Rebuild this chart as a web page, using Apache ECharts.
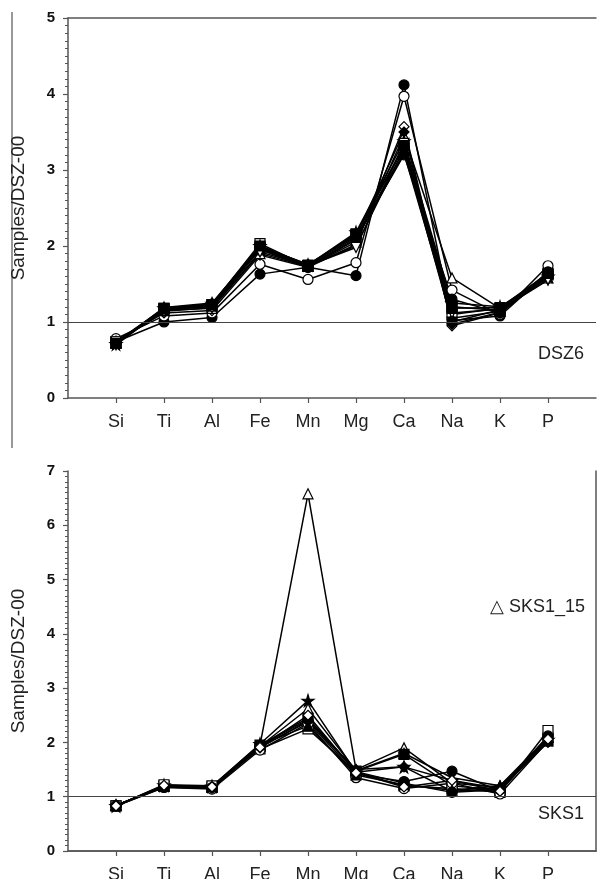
<!DOCTYPE html>
<html>
<head>
<meta charset="utf-8">
<script src="https://cdn.jsdelivr.net/npm/echarts@6/dist/echarts.min.js"></script>
<style>
  html, body { margin: 0; padding: 0; background: #fff; }
  #chart { width: 597px; height: 879px; }
</style>
</head>
<body>
<div id="chart"></div>
<script>
// element order on the x axis
var elements = ["Si", "Ti", "Al", "Fe", "Mn", "Mg", "Ca", "Na", "K", "P"];

// DSZ6 samples normalised to DSZ-00
var dsz6_a = [0.74, 1.00, 1.06, 1.63, 1.72, 1.61, 4.12, 1.02, 1.08, 1.65];
var dsz6_b = [0.78, 1.08, 1.12, 1.76, 1.56, 1.78, 3.97, 1.42, 1.10, 1.74];
var dsz6_c = [0.75, 1.12, 1.15, 1.88, 1.72, 2.02, 3.57, 0.95, 1.12, 1.60];
var dsz6_d = [0.72, 1.15, 1.18, 1.90, 1.73, 2.05, 3.45, 1.58, 1.18, 1.58];
var dsz6_e = [0.73, 1.17, 1.22, 1.98, 1.74, 2.15, 3.30, 1.20, 1.15, 1.62];
var dsz6_f = [0.74, 1.18, 1.23, 2.03, 1.73, 2.12, 3.25, 1.10, 1.18, 1.63];
var dsz6_g = [0.71, 1.18, 1.24, 2.00, 1.75, 2.18, 3.38, 1.25, 1.20, 1.60];
var dsz6_h = [0.73, 1.16, 1.21, 1.95, 1.73, 2.08, 3.22, 1.05, 1.14, 1.64];
var dsz6_i = [0.70, 1.17, 1.20, 1.97, 1.74, 2.00, 3.28, 1.00, 1.16, 1.55];
var dsz6_j = [0.72, 1.19, 1.25, 1.99, 1.76, 2.13, 3.50, 0.97, 1.13, 1.62];
var dsz6_k = [0.73, 1.15, 1.22, 1.96, 1.72, 2.10, 3.20, 1.30, 1.12, 1.66];
var dsz6_l = [0.74, 1.14, 1.19, 1.92, 1.74, 1.98, 3.35, 1.12, 1.17, 1.56];
var dsz6_m = [0.72, 1.18, 1.23, 2.00, 1.75, 2.16, 3.32, 1.18, 1.19, 1.64];

// SKS1 samples normalised to DSZ-00
var sks1_15 = [0.84, 1.20, 1.18, 1.95, 6.58, 1.50, 1.90, 1.25, 1.18, 2.05];
var sks1_a = [0.83, 1.21, 1.19, 1.97, 2.77, 1.45, 1.55, 1.30, 1.15, 2.05];
var sks1_b = [0.84, 1.19, 1.17, 1.93, 2.62, 1.48, 1.80, 1.35, 1.20, 2.10];
var sks1_c = [0.83, 1.20, 1.18, 1.95, 2.45, 1.47, 1.78, 1.20, 1.12, 2.08];
var sks1_d = [0.84, 1.18, 1.15, 1.92, 2.38, 1.42, 1.28, 1.47, 1.10, 2.10];
var sks1_e = [0.83, 1.22, 1.20, 1.88, 2.25, 1.45, 1.20, 1.15, 1.08, 2.22];
var sks1_f = [0.83, 1.17, 1.14, 1.86, 2.35, 1.35, 1.15, 1.25, 1.05, 2.02];
var sks1_g = [0.84, 1.19, 1.16, 1.90, 2.40, 1.50, 1.55, 1.10, 1.15, 2.00];
var sks1_h = [0.83, 1.18, 1.17, 1.94, 2.42, 1.46, 1.25, 1.08, 1.13, 2.12];
var sks1_i = [0.84, 1.20, 1.19, 1.96, 2.30, 1.40, 1.22, 1.12, 1.20, 2.03];
var sks1_j = [0.83, 1.21, 1.18, 1.91, 2.50, 1.44, 1.18, 1.30, 1.10, 2.06];

var star = "path://M50,0 L61,35 L98,35 L68,57 L79,91 L50,70 L21,91 L32,57 L2,35 L39,35 Z";
var font = "Liberation Sans, Arial, Helvetica, sans-serif";

// pad an empty slot at both ends of the x axis
var cats = [""].concat(elements, [""]);
function pad(arr) { return [null].concat(arr, [null]); }

function mk(name, arr, idx, symbol, filled, rotate) {
  return {
    name: name,
    type: "line",
    xAxisIndex: idx,
    yAxisIndex: idx,
    data: pad(arr),
    symbol: symbol,
    symbolSize: symbol === star ? 12 : 10,
    symbolRotate: rotate || 0,
    showAllSymbol: true,
    connectNulls: false,
    lineStyle: { color: "#000", width: 1.5 },
    itemStyle: { color: filled ? "#000" : "#fff", borderColor: "#000", borderWidth: 1.2 },
    emphasis: { disabled: true },
    animation: false
  };
}

var one = {
  silent: true,
  symbol: "none",
  label: { show: false },
  lineStyle: { color: "#444", width: 1, type: "solid" },
  data: [{ yAxis: 1 }]
};

var series = [
  mk("DSZ6-a", dsz6_a, 0, "circle", true),
  mk("DSZ6-b", dsz6_b, 0, "circle", false),
  mk("DSZ6-c", dsz6_c, 0, "diamond", false),
  mk("DSZ6-d", dsz6_d, 0, "triangle", false),
  mk("DSZ6-e", dsz6_e, 0, "rect", true),
  mk("DSZ6-f", dsz6_f, 0, "rect", false),
  mk("DSZ6-g", dsz6_g, 0, star, true),
  mk("DSZ6-h", dsz6_h, 0, "triangle", true),
  mk("DSZ6-i", dsz6_i, 0, "triangle", true, 180),
  mk("DSZ6-j", dsz6_j, 0, "diamond", true),
  mk("DSZ6-k", dsz6_k, 0, "circle", true),
  mk("DSZ6-l", dsz6_l, 0, "triangle", false, 180),
  mk("DSZ6-m", dsz6_m, 0, "rect", true),
  mk("SKS1_15", sks1_15, 1, "triangle", false),
  mk("SKS1-a", sks1_a, 1, star, true),
  mk("SKS1-b", sks1_b, 1, "triangle", false),
  mk("SKS1-c", sks1_c, 1, "rect", true),
  mk("SKS1-d", sks1_d, 1, "circle", true),
  mk("SKS1-e", sks1_e, 1, "rect", false),
  mk("SKS1-f", sks1_f, 1, "circle", false),
  mk("SKS1-g", sks1_g, 1, "diamond", true),
  mk("SKS1-h", sks1_h, 1, "circle", true),
  mk("SKS1-i", sks1_i, 1, "triangle", true),
  mk("SKS1-j", sks1_j, 1, "diamond", false)
];
series[0].markLine = one;
series[13].markLine = one;

function xAx(idx) {
  return {
    type: "category",
    gridIndex: idx,
    data: cats,
    boundaryGap: false,
    axisLine: { lineStyle: { color: "#555", width: 1.5 } },
    axisTick: {
      inside: false, length: 5,
      interval: function (i) { return i > 0 && i < cats.length - 1; },
      lineStyle: { color: "#555", width: 1.2 }
    },
    axisLabel: { interval: 0, margin: 15, color: "#222", fontSize: 18, fontFamily: font },
    splitLine: { show: false }
  };
}
function topAx(idx) {
  return {
    type: "category", gridIndex: idx, position: "top", data: cats, boundaryGap: false,
    axisLine: { lineStyle: { color: "#555", width: 1.5 } },
    axisTick: { show: false }, axisLabel: { show: false }, splitLine: { show: false }
  };
}
function yAx(idx, max) {
  return {
    type: "value",
    gridIndex: idx,
    min: 0, max: max, interval: 1,
    name: "Samples/DSZ-00",
    nameLocation: "middle",
    nameGap: 40,
    nameTextStyle: { color: "#222", fontSize: 19, fontFamily: font },
    axisLine: { show: true, lineStyle: { color: "#555", width: 1.5 } },
    axisTick: { show: true, inside: false, length: 5, lineStyle: { color: "#555", width: 1.2 } },
    minorTick: { show: true, splitNumber: 10, length: 3, lineStyle: { color: "#555", width: 1 } },
    axisLabel: { margin: 13, color: "#111", fontSize: 15, fontWeight: "bold", fontFamily: font },
    splitLine: { show: false }
  };
}
function rightAx(idx, max) {
  return {
    type: "value", gridIndex: idx, position: "right", min: 0, max: max, interval: 1,
    axisLine: { show: true, lineStyle: { color: "#555", width: 1.5 } },
    axisTick: { show: false }, axisLabel: { show: false }, splitLine: { show: false }
  };
}

var chart = echarts.init(document.getElementById("chart"));
chart.setOption({
  backgroundColor: "#fff",
  animation: false,
  grid: [
    { left: 68, right: 1, top: 18, height: 380, outerBoundsMode: "none" },
    { left: 68, right: 1, top: 471, height: 380, outerBoundsMode: "none" }
  ],
  xAxis: [xAx(0), xAx(1), topAx(0), topAx(1)],
  yAxis: [yAx(0, 5), yAx(1, 7), rightAx(1, 7)],
  series: series,
  graphic: [
    { type: "line", shape: { x1: 12, y1: 12, x2: 12, y2: 448 }, style: { stroke: "#777", lineWidth: 1.5 } },
    { type: "text", right: 13, top: 345, style: { text: "DSZ6", fill: "#222", font: "18px " + font } },
    { type: "text", right: 13, top: 805, style: { text: "SKS1", fill: "#222", font: "18px " + font } },
    { type: "text", right: 12, top: 598, style: { text: "\u25B3 SKS1_15", fill: "#222", font: "18px " + font } }
  ]
});
window.addEventListener("resize", function () { chart.resize(); });
</script>
</body>
</html>
